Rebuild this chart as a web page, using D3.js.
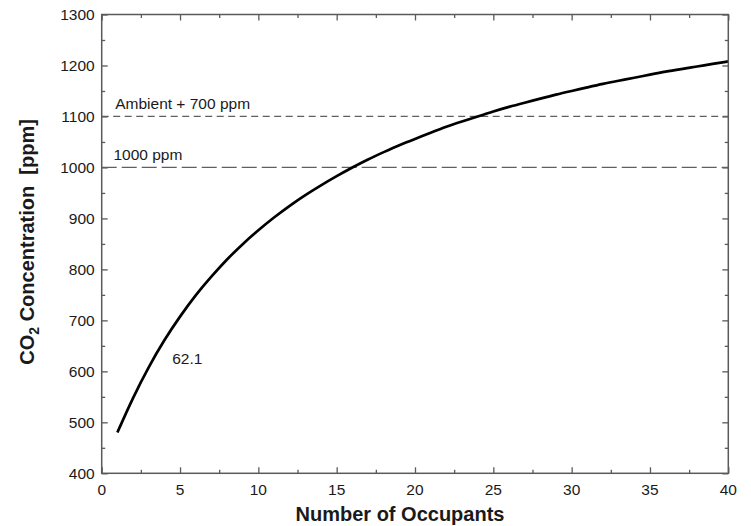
<!DOCTYPE html>
<html>
<head>
<meta charset="utf-8">
<script src="https://cdn.jsdelivr.net/npm/d3@7"></script>
<style>
  body { margin: 0; background: #fff; overflow: hidden; }
  svg { display: block; font-family: "Liberation Sans", Arial, sans-serif; }
</style>
</head>
<body>
<svg id="chart"></svg>
<script>
// values
const occupants = [1, 2, 3, 4, 5, 6, 7, 8, 9, 10, 11, 12, 13, 14, 15, 16, 17, 18, 19, 20,
  21, 22, 23, 24, 25, 26, 27, 28, 29, 30, 31, 32, 33, 34, 35, 36, 37, 38, 39, 40];
const co2 = [480, 549, 609, 662, 708, 750, 786, 820, 850, 877, 902, 925, 946, 965, 983, 1000,
  1016, 1030, 1044, 1056, 1068, 1080, 1090, 1100, 1110, 1119, 1127, 1135, 1143, 1150,
  1157, 1164, 1170, 1176, 1182, 1188, 1193, 1198, 1203, 1208];
const refLevels = [1100, 1000];
const refLabels = ["Ambient + 700 ppm", "1000 ppm"];
const xTicks = [0, 5, 10, 15, 20, 25, 30, 35, 40];
const yTicks = [400, 500, 600, 700, 800, 900, 1000, 1100, 1200, 1300];
const curveLabel = "62.1";

const width = 751, height = 526;
const margin = { top: 14.5, right: 22.7, bottom: 52.7, left: 101.7 };
const innerWidth = width - margin.left - margin.right;
const innerHeight = height - margin.top - margin.bottom;

const svg = d3.select("#chart")
    .attr("width", width)
    .attr("height", height);

const chart = svg.append("g")
    .attr("transform", `translate(${margin.left},${margin.top})`);

const xScale = d3.scaleLinear().domain([0, 40]).range([0, innerWidth]);
const yScale = d3.scaleLinear().domain([400, 1300]).range([innerHeight, 0]);

// minor ticks sit halfway between the major ones
const xMinor = xTicks.slice(1).map((d, i) => (d + xTicks[i]) / 2);
const yMinor = yTicks.slice(1).map((d, i) => (d + yTicks[i]) / 2);

const axisColor = "#5a5a5a";
const textColor = "#1a1a1a";

// tick marks only, labels are drawn separately
function bareTicks(g) {
  g.select(".domain").remove();
  g.selectAll("text").remove();
  g.selectAll("line").attr("stroke", axisColor).attr("stroke-width", 1.3);
}

// inward ticks on all four sides, major and minor
const tickAxes = [
  [d3.axisBottom(xScale).tickValues(xTicks).tickSize(-6), `translate(0,${innerHeight})`],
  [d3.axisBottom(xScale).tickValues(xMinor).tickSize(-3.5), `translate(0,${innerHeight})`],
  [d3.axisTop(xScale).tickValues(xTicks).tickSize(-6), null],
  [d3.axisTop(xScale).tickValues(xMinor).tickSize(-3.5), null],
  [d3.axisLeft(yScale).tickValues(yTicks).tickSize(-6), null],
  [d3.axisLeft(yScale).tickValues(yMinor).tickSize(-3.5), null],
  [d3.axisRight(yScale).tickValues(yTicks).tickSize(-6), `translate(${innerWidth},0)`],
  [d3.axisRight(yScale).tickValues(yMinor).tickSize(-3.5), `translate(${innerWidth},0)`],
];
tickAxes.forEach(([axis, tr]) => {
  chart.append("g")
      .attr("transform", tr)
      .call(axis)
      .call(bareTicks);
});

// tick labels
chart.append("g")
    .selectAll("text")
    .data(xTicks)
    .join("text")
    .attr("x", d => xScale(d))
    .attr("y", innerHeight + 22)
    .attr("text-anchor", "middle")
    .attr("fill", textColor)
    .attr("font-size", 15.5)
    .text(d3.format("d"));

chart.append("g")
    .selectAll("text")
    .data(yTicks)
    .join("text")
    .attr("x", -7)
    .attr("y", d => yScale(d) + 5.5)
    .attr("text-anchor", "end")
    .attr("fill", textColor)
    .attr("font-size", 15.5)
    .text(d3.format("d"));

// reference lines
chart.selectAll(".ref")
    .data(refLevels)
    .join("line")
    .attr("class", "ref")
    .attr("x1", 0)
    .attr("x2", innerWidth)
    .attr("y1", d => yScale(d))
    .attr("y2", d => yScale(d))
    .attr("stroke", "#5f5f5f")
    .attr("stroke-width", 1.2)
    .attr("stroke-dasharray", (d, i) => (i === 0 ? "7,4.5" : "15,5"));

chart.selectAll(".ref-label")
    .data(refLabels)
    .join("text")
    .attr("class", "ref-label")
    .attr("x", (d, i) => (i === 0 ? 13.5 : 11.7))
    .attr("y", (d, i) => yScale(refLevels[i]) - 7.8)
    .attr("fill", textColor)
    .attr("font-size", 15.5)
    .text(d => d);

// the curve
const line = d3.line()
    .x((d, i) => xScale(occupants[i]))
    .y(d => yScale(d))
    .curve(d3.curveBasis);

chart.append("path")
    .datum(co2)
    .attr("d", line)
    .attr("fill", "none")
    .attr("stroke", "#000")
    .attr("stroke-width", 2.7)
    .attr("stroke-linejoin", "round");

chart.append("text")
    .attr("x", xScale(4.5))
    .attr("y", yScale(600) - 7.5)
    .attr("fill", textColor)
    .attr("font-size", 15.5)
    .text(curveLabel);

// frame
chart.append("rect")
    .attr("width", innerWidth)
    .attr("height", innerHeight)
    .attr("fill", "none")
    .attr("stroke", axisColor)
    .attr("stroke-width", 1.5);

// axis titles
svg.append("text")
    .attr("x", 400)
    .attr("y", 521)
    .attr("text-anchor", "middle")
    .attr("fill", textColor)
    .attr("font-size", 20)
    .attr("font-weight", "bold")
    .text("Number of Occupants");

const yTitle = svg.append("text")
    .attr("transform", `translate(33.5,${margin.top + innerHeight / 2 - 2}) rotate(-90)`)
    .attr("text-anchor", "middle")
    .attr("fill", textColor)
    .attr("font-size", 20)
    .attr("font-weight", "bold");
yTitle.append("tspan").text("CO");
yTitle.append("tspan").attr("dy", 5).attr("font-size", 14).text("2");
yTitle.append("tspan").attr("dy", -5).text(" Concentration\u00a0 [ppm]");
</script>
</body>
</html>
